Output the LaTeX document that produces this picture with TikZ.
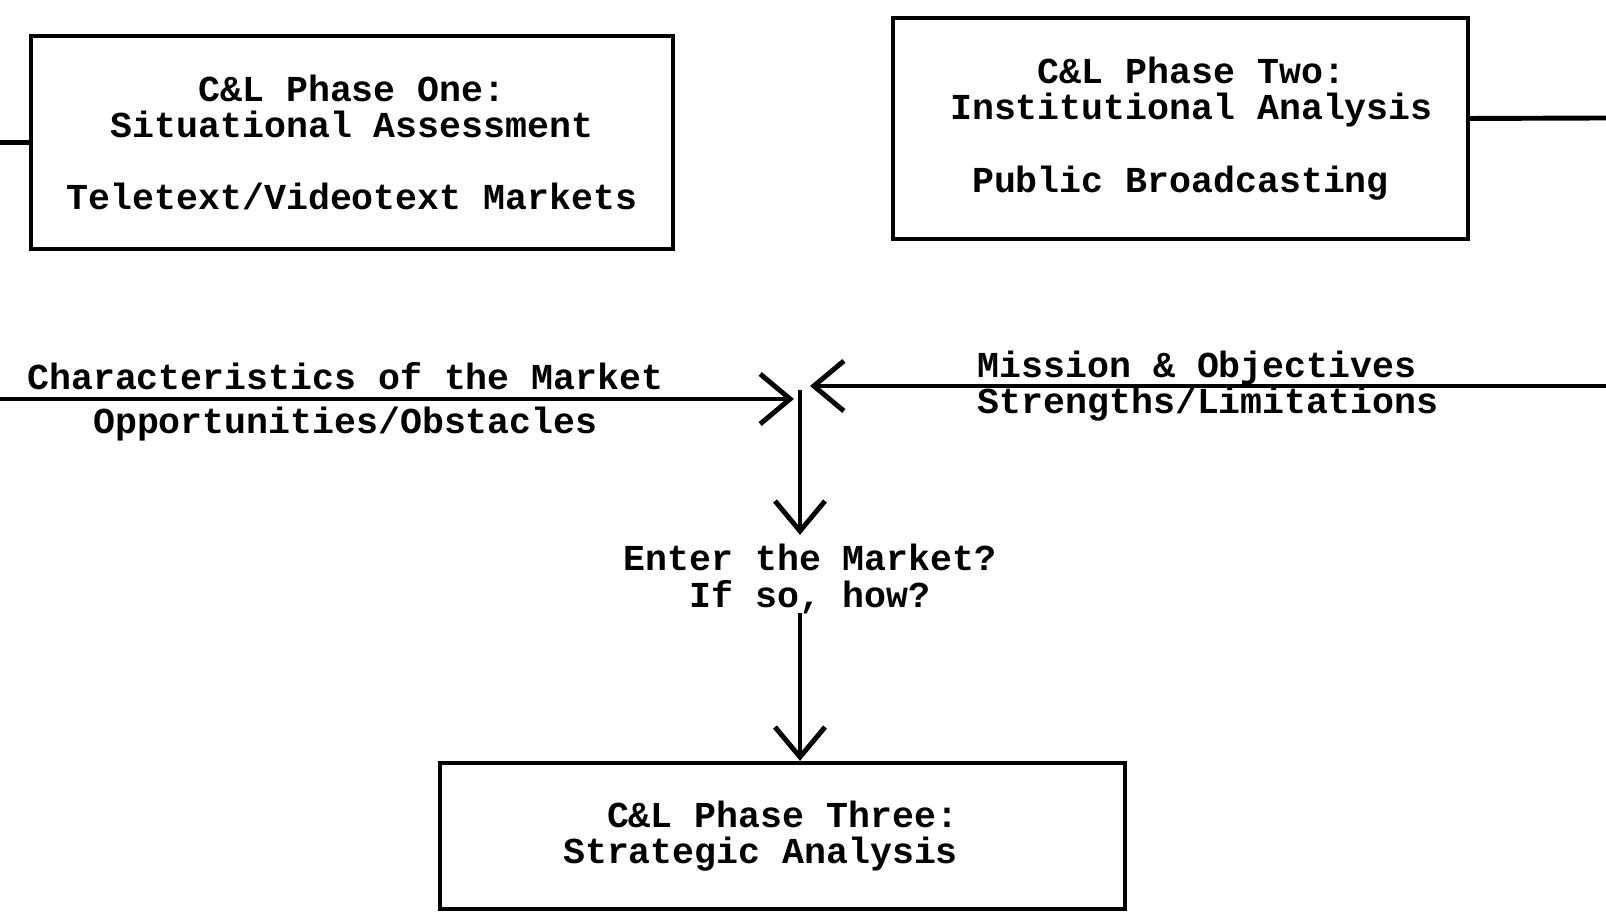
\documentclass[tikz,border=0pt]{standalone}
\usepackage{fontspec}
\setmonofont{Liberation Mono}
\usetikzlibrary{arrows.meta,positioning}

\begin{document}
\begin{tikzpicture}[
        phase/.style={draw, line width=1.2pt, inner sep=0pt, align=center,
            font=\ttfamily\bfseries\fontsize{10.4}{10.3}\selectfont},
        tag/.style={inner sep=0pt, align=center,
            font=\ttfamily\bfseries\fontsize{10.4}{10.8}\selectfont},
        wire/.style={line width=1.4pt},
        flow/.style={wire, -{Straight Barb[length=0.3cm,width=0.5cm]}}
    ]
        \useasboundingbox (0,0) rectangle (16.06,9.16);
        % the three phases
        \node[phase, minimum width=6.42cm, minimum height=2.13cm] (one) at (3.52,7.735) {C\&L Phase One:\\Situational Assessment\\[10.3pt]Teletext/Videotext Markets};
        \node[phase, minimum width=5.75cm, minimum height=2.21cm] (two) at (11.805,7.875) {\phantom{x}C\&L Phase Two:\\\phantom{x}Institutional Analysis\\[10.3pt]Public Broadcasting};
        \node[phase, minimum width=6.85cm, minimum height=1.46cm] (three) at (7.825,0.80) {C\&L Phase Three:\\Strategic Analysis\phantom{xx}};
        \node[tag, inner sep=0.08cm] (ask) at (8.10,3.37) {Enter the Market?\\If so, how?};
        % free ends and meeting point
        \coordinate (inL) at (0,5.17);
        \coordinate (tipL) at (7.94,5.17);
        \coordinate (inR) at (16.06,5.30);
        \coordinate (tipR) at (8.10,5.30);
        \coordinate (meet) at (8.00,5.26);
        \coordinate (outR) at (16.06,7.98);
        \draw[wire] (inL |- one.west) -- (one.west);
        \draw[wire] ([yshift=0.1cm]two.east) -- (outR);
        \draw[flow] (inL) -- node[tag, above, inner sep=2pt, pos=0.435] (traits) {Characteristics of the Market} node[tag, below, inner sep=1.5pt, pos=0.435] (odds) {Opportunities/Obstacles} (tipL);
        \draw[flow] (inR) -- (tipR);
        \node[tag] (goals) [above right = 0pt and 1.67cm of tipR] {Mission \& Objectives};
        \node[tag] (means) [below right = 0pt and 1.67cm of tipR] {Strengths/Limitations};
        \draw[flow] (meet) -- (meet |- ask.north);
        \draw[flow, shorten <=-0.1cm] (meet |- ask.south) -- (meet |- three.north);
    \end{tikzpicture}
\end{document}
